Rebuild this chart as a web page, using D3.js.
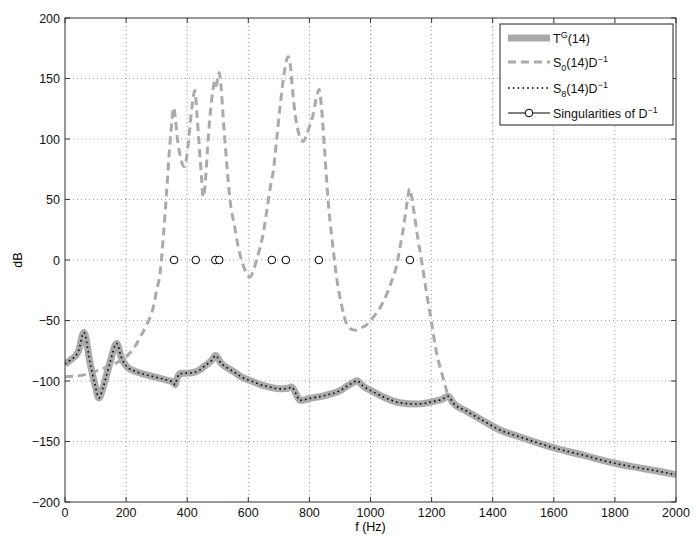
<!DOCTYPE html>
<html><head><meta charset="utf-8">
<script src="https://cdn.jsdelivr.net/npm/d3@7"></script>
<style>
body{margin:0;background:#fff;}
svg{display:block;font-family:"Liberation Sans",Arial,Helvetica,sans-serif;}
</style></head><body>
<svg id="c" width="696" height="537"></svg>
<script>
// ---- data ----
const xTicks = [0,200,400,600,800,1000,1200,1400,1600,1800,2000];
const yTicks = [-200,-150,-100,-50,0,50,100,150,200];

const tgFreq = [0,16,43,62,82,98,111,125,147,169,185,202,230,267,300,330,354,360,368,376,400,420,440,460,480,493,510,530,550,580,610,640,670,704,730,742,755,769,800,850,900,925,945,955,975,998,1041,1097,1151,1205,1235,1254,1270,1315,1370,1424,1480,1533,1590,1642,1700,1751,1800,1860,1930,2000];
const tgDb   = [-86,-83,-76,-60,-85,-103,-114,-105,-85,-69,-81,-88,-92,-95,-97,-99,-101,-103,-97,-94,-93.5,-93,-91,-87,-83,-79,-85,-89,-92,-97,-100,-103,-105,-106.5,-106,-105,-110,-116,-114.5,-112,-108,-104,-101,-99.7,-104,-107.5,-113,-118,-119,-117,-115,-112.5,-118,-125,-133,-140.5,-145.5,-150,-154.5,-158,-161.5,-165,-168,-171,-174,-177.5];

const s0Freq = [0,50,100,150,200,230,250,270,285,300,311,322,333,343,350,355,360,368,378,390,395,405,415,425,432,440,447,452,458,466,475,484,490,495,500,505,510,520,530,540,555,567,580,592,605,615,627,638,649,660,672,682,693,704,715,725,731,738,745,753,762,770,780,790,800,812,822,832,840,850,861,875,890,905,922,935,950,970,990,1010,1030,1050,1070,1085,1097,1110,1120,1128,1135,1145,1155,1170,1184,1200,1214,1235,1254];
const s0Db   = [-96.5,-95.5,-92,-87,-80,-71,-62,-52,-43,-25,-11,20,58,95,115,126,120,100,85,77,80,100,125,140,120,92,68,52,60,90,120,140,148,144,150,155,145,110,78,50,28,11,-2,-10,-14,-10,0,10,22,40,60,74,100,127,150,165,168,160,140,121,108,100,98,103,110,120,133,141,125,90,50,15,-16,-37,-53,-57,-58,-56,-53,-47,-40,-30,-17,-5,11,30,48,59,52,35,18,-5,-28,-52,-74,-95,-112.5];

// S8(14)D^-1 coincides with T^G(14)
const s8Freq = tgFreq;
const s8Db   = tgDb;

const singFreq = [357,428,492,505,677,723,831,1129];
const singDb   = [0,0,0,0,0,0,0,0];

// ---- layout ----
const svg = d3.select("#c");
const L=65, R=676, T=18, B=502;
const x = d3.scaleLinear().domain([0,2000]).range([L,R]);
const y = d3.scaleLinear().domain([-200,200]).range([B,T]);
const gray = "#aaaaaa";

// grid
const grid = svg.append("g");
xTicks.forEach(t=>{ if(t>0 && t<2000) grid.append("line").attr("x1",x(t)).attr("x2",x(t)).attr("y1",T).attr("y2",B)
  .attr("stroke","#555").attr("stroke-width",0.6).attr("stroke-dasharray","1,3");});
yTicks.forEach(t=>{ if(t>-200 && t<200) grid.append("line").attr("x1",L).attr("x2",R).attr("y1",y(t)).attr("y2",y(t))
  .attr("stroke","#555").attr("stroke-width",0.6).attr("stroke-dasharray","1,3");});

const clip = svg.append("clipPath").attr("id","pc").append("rect").attr("x",L).attr("y",T).attr("width",R-L).attr("height",B-T);
const plot = svg.append("g").attr("clip-path","url(#pc)");

const line = d3.line().x(d=>x(d[0])).y(d=>y(d[1])).curve(d3.curveMonotoneX);
const zip = (a,b)=>a.map((v,i)=>[v,b[i]]);

plot.append("path").attr("d",line(zip(tgFreq,tgDb))).attr("fill","none").attr("stroke",gray).attr("stroke-width",7).attr("stroke-linejoin","round");
plot.append("path").attr("d",line(zip(s0Freq,s0Db))).attr("fill","none").attr("stroke",gray).attr("stroke-width",3).attr("stroke-dasharray","8,5");
plot.append("path").attr("d",line(zip(s8Freq,s8Db))).attr("fill","none").attr("stroke","#000").attr("stroke-width",1.6).attr("stroke-dasharray","1.6,3.2");
plot.selectAll("circle").data(zip(singFreq,singDb)).enter().append("circle")
  .attr("cx",d=>x(d[0])).attr("cy",d=>y(d[1])).attr("r",3.8).attr("fill","#fff").attr("stroke","#000").attr("stroke-width",1);

// axes box
svg.append("rect").attr("x",L).attr("y",T).attr("width",R-L).attr("height",B-T).attr("fill","none").attr("stroke","#333").attr("stroke-width",1);

// ticks (inward) and labels
const ax = svg.append("g").attr("font-size",12.5).attr("fill","#111");
xTicks.forEach(t=>{
  ax.append("line").attr("x1",x(t)).attr("x2",x(t)).attr("y1",B).attr("y2",B-5).attr("stroke","#333");
  ax.append("line").attr("x1",x(t)).attr("x2",x(t)).attr("y1",T).attr("y2",T+5).attr("stroke","#333");
  ax.append("text").attr("x",x(t)).attr("y",B+15).attr("text-anchor","middle").text(d3.format("d")(t));
});
yTicks.forEach(t=>{
  ax.append("line").attr("x1",L).attr("x2",L+5).attr("y1",y(t)).attr("y2",y(t)).attr("stroke","#333");
  ax.append("line").attr("x1",R).attr("x2",R-5).attr("y1",y(t)).attr("y2",y(t)).attr("stroke","#333");
  ax.append("text").attr("x",L-5).attr("y",y(t)+4.5).attr("text-anchor","end").text(d3.format("d")(t));
});
svg.append("text").attr("x",(L+R)/2).attr("y",531).attr("text-anchor","middle").attr("font-size",12.5).text("f (Hz)");
svg.append("text").attr("transform",`translate(22,${(T+B)/2}) rotate(-90)`).attr("text-anchor","middle").attr("font-size",12.5).text("dB");

// legend
const lg = svg.append("g");
lg.append("rect").attr("x",500).attr("y",24).attr("width",173).attr("height",101).attr("fill","#fff").attr("stroke","#222").attr("stroke-width",1);
const rows=[38,62,88,113];
const sx1=508, sx2=550, tx=553;
lg.append("line").attr("x1",sx1).attr("x2",sx2).attr("y1",rows[0]).attr("y2",rows[0]).attr("stroke",gray).attr("stroke-width",7);
lg.append("line").attr("x1",sx1).attr("x2",sx2).attr("y1",rows[1]).attr("y2",rows[1]).attr("stroke",gray).attr("stroke-width",3).attr("stroke-dasharray","8,5");
lg.append("line").attr("x1",sx1).attr("x2",sx2).attr("y1",rows[2]).attr("y2",rows[2]).attr("stroke","#000").attr("stroke-width",1.6).attr("stroke-dasharray","1.6,3.2");
lg.append("line").attr("x1",sx1).attr("x2",sx2).attr("y1",rows[3]).attr("y2",rows[3]).attr("stroke","#000").attr("stroke-width",1);
lg.append("circle").attr("cx",(sx1+sx2)/2).attr("cy",rows[3]).attr("r",3.8).attr("fill","#fff").attr("stroke","#000");
const lt = lg.append("g").attr("font-size",12.5).attr("fill","#111");
function entry(yy, parts){
  const t = lt.append("text").attr("x",tx).attr("y",yy+4.5);
  parts.forEach(p=>{
    const s=t.append("tspan").text(p[0]);
    if(p[1]==="sup") s.attr("dy",-5).attr("font-size",9);
    else if(p[1]==="sub") s.attr("dy",4).attr("font-size",9);
    else if(p[1]==="back") s.attr("dy",p[2]);
  });
}
lt.append("text").attr("x",tx).attr("y",rows[0]+4.5).html('T<tspan dy="-5" font-size="9">G</tspan><tspan dy="5">(14)</tspan>');
lt.append("text").attr("x",tx).attr("y",rows[1]+4.5).html('S<tspan dy="4" font-size="9">0</tspan><tspan dy="-4">(14)D</tspan><tspan dy="-5" font-size="9">\u22121</tspan>');
lt.append("text").attr("x",tx).attr("y",rows[2]+4.5).html('S<tspan dy="4" font-size="9">8</tspan><tspan dy="-4">(14)D</tspan><tspan dy="-5" font-size="9">\u22121</tspan>');
lt.append("text").attr("x",tx).attr("y",rows[3]+4.5).html('Singularities of D<tspan dy="-5" font-size="9">\u22121</tspan>');
</script>
</body></html>
